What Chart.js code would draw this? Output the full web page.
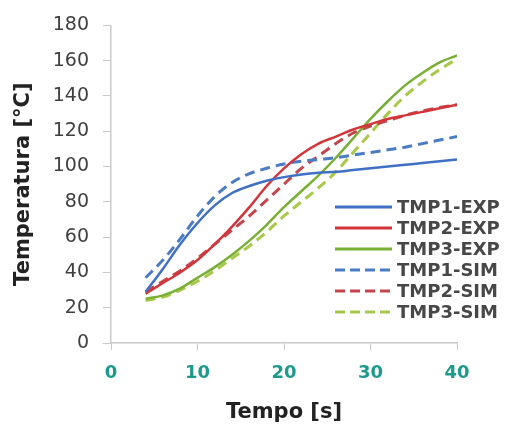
<!DOCTYPE html>
<html>
<head>
<meta charset="utf-8">
<script src="https://cdn.jsdelivr.net/npm/chart.js@4"></script>
<style>
  html, body { margin: 0; padding: 0; background: #fff; }
  #wrap { width: 509px; height: 426px; }
</style>
</head>
<body>
<div id="wrap"><canvas id="tempChart" width="509" height="426"></canvas></div>
<script>
// Tempo [s]
const timeS = [4, 6, 8, 10, 12, 14, 16, 18, 20, 22, 24, 26, 28, 30, 32, 34, 36, 38, 40];

// Temperature series [°C]
const tmp1Exp = [29, 42, 56, 68, 78, 85, 89, 92, 94, 95.5, 96.5, 97, 98, 99, 100, 101, 102, 103, 104];
const tmp2Exp = [28, 34, 40, 47, 56, 66, 77, 89, 99, 107, 113, 117, 121, 124, 127, 129, 131, 133, 135];
const tmp3Exp = [25, 27, 31, 37, 43, 50, 58, 67, 77, 86, 95, 105, 116, 127, 137, 146, 153, 159, 163];
const tmp1Sim = [37, 47, 59, 72, 83, 91, 96, 99, 101.5, 103, 104, 105, 106.5, 108, 109.5, 111, 113, 115, 117];
const tmp2Sim = [29, 35, 41, 48, 56, 64, 72, 81, 90, 99, 106, 113, 119, 123, 126, 129, 131.5, 133.5, 135];
const tmp3Sim = [24, 26, 30, 35, 41, 48, 55, 63, 72, 80, 88, 97, 108, 119, 130, 140, 148, 155, 161];

const seriesLabels = ['TMP1-EXP', 'TMP2-EXP', 'TMP3-EXP', 'TMP1-SIM', 'TMP2-SIM', 'TMP3-SIM'];
const seriesValues = [tmp1Exp, tmp2Exp, tmp3Exp, tmp1Sim, tmp2Sim, tmp3Sim];
const seriesColors = ['#3f70c4', '#d2353a', '#78b035', '#4a7cc6', '#c4454c', '#a8c84a'];

const yTicks = [0, 20, 40, 60, 80, 100, 120, 140, 160, 180];
const xTicks = [0, 10, 20, 30, 40];

const datasets = seriesValues.map((vals, i) => {
  const sim = i >= 3;
  return {
    label: seriesLabels[i],
    data: timeS.map((t, k) => ({ x: t, y: vals[k] })),
    borderColor: seriesColors[i],
    borderWidth: sim ? 3 : 2.5,
    borderDash: sim ? [10, 6] : [],
    pointRadius: 0,
    cubicInterpolationMode: 'monotone',
    fill: false
  };
});

// legend drawn over the plot, on the right side
const sideLegend = {
  id: 'sideLegend',
  afterDraw(chart) {
    const ctx = chart.ctx;
    const x0 = 335, x1 = 392, top = 207, step = 21;
    ctx.save();
    chart.data.datasets.forEach((ds, i) => {
      const y = top + i * step;
      ctx.strokeStyle = ds.borderColor;
      ctx.lineWidth = 3;
      ctx.setLineDash(ds.borderDash.length ? [10, 5] : []);
      ctx.beginPath();
      ctx.moveTo(x0, y);
      ctx.lineTo(x1, y);
      ctx.stroke();
      ctx.setLineDash([]);
      ctx.fillStyle = '#474747';
      ctx.font = 'bold 18px "DejaVu Sans"';
      ctx.textBaseline = 'middle';
      ctx.textAlign = 'left';
      ctx.fillText(ds.label, x1 + 5, y + 1);
    });
    ctx.restore();
  }
};

new Chart(document.getElementById('tempChart'), {
  type: 'line',
  data: { datasets },
  plugins: [sideLegend],
  options: {
    responsive: false,
    animation: false,
    layout: { padding: { left: 6, right: 52, top: 25, bottom: 1 } },
    plugins: {
      legend: { display: false },
      tooltip: { enabled: false }
    },
    scales: {
      x: {
        type: 'linear',
        min: 0,
        max: 40,
        afterBuildTicks: s => { s.ticks = xTicks.map(v => ({ value: v })); },
        grid: { drawOnChartArea: false, drawTicks: true, tickLength: 7, color: '#c8c8c8' },
        border: { color: '#c8c8c8', width: 1.5 },
        ticks: {
          padding: 13,
          color: '#1d9a8c',
          font: { family: 'DejaVu Sans', size: 18, weight: 'bold' }
        },
        title: {
          display: true,
          text: 'Tempo [s]',
          color: '#222',
          padding: { top: 10, bottom: 0 },
          font: { family: 'DejaVu Sans', size: 21, weight: 'bold' }
        },
        afterFit: s => { s.height = 82; }
      },
      y: {
        min: 0,
        max: 180,
        afterBuildTicks: s => { s.ticks = yTicks.map(v => ({ value: v })); },
        grid: { drawOnChartArea: false, drawTicks: true, tickLength: 8, color: '#c8c8c8' },
        border: { color: '#c8c8c8', width: 1.5 },
        ticks: {
          padding: 14,
          color: '#404040',
          font: { family: 'DejaVu Sans', size: 19 }
        },
        title: {
          display: true,
          text: 'Temperatura [°C]',
          color: '#222',
          padding: { top: 5, bottom: 0 },
          font: { family: 'DejaVu Sans', size: 21, weight: 'bold' }
        },
        afterFit: s => { s.width = 105; }
      }
    }
  }
});
</script>
</body>
</html>
